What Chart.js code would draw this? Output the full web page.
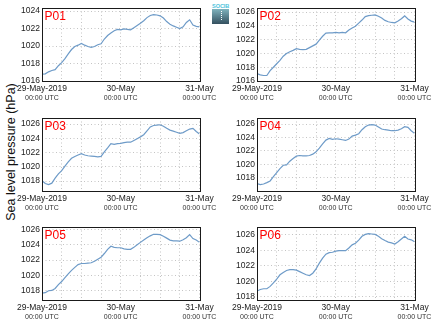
<!DOCTYPE html>
<html>
<head>
<meta charset="utf-8">
<script src="https://cdn.jsdelivr.net/npm/chart.js@4"></script>
<style>
    body { margin: 0; background: #fff; }
    #wrap { position: relative; width: 434px; height: 327px; overflow: hidden; font-family: "Liberation Sans", Arial, sans-serif; }
    #wrap canvas { position: absolute; }
    #ylabel { position: absolute; left: 11px; top: 152px; transform: translate(-50%, -50%) rotate(-90deg); font-size: 12.5px; white-space: nowrap; color: #111; }
    #logo { position: absolute; left: 212px; top: 3px; width: 17px; }
    #logo .txt { font-size: 5.6px; font-weight: bold; color: #4fc3dc; line-height: 6px; text-align: center; letter-spacing: -0.1px; }
    #logo .box { height: 15px; background: linear-gradient(#7fb2bd, #34505f); position: relative; }
    #logo .box::after { content: ""; position: absolute; left: 9px; top: 2px; height: 9px; border-left: 1px dotted #fff; }
</style>
</head>
<body>
<div id="wrap">
    <div id="ylabel">Sea level pressure (hPa)</div>
    <div id="logo"><div class="txt">SOCIB</div><div class="box"></div></div>
    <canvas id="P01" width="222" height="104" style="left:0px;top:0px"></canvas>
    <canvas id="P02" width="222" height="104" style="left:212px;top:0px"></canvas>
    <canvas id="P03" width="222" height="104" style="left:0px;top:110px"></canvas>
    <canvas id="P04" width="222" height="104" style="left:212px;top:110px"></canvas>
    <canvas id="P05" width="222" height="104" style="left:0px;top:219px"></canvas>
    <canvas id="P06" width="222" height="104" style="left:212px;top:219px"></canvas>
</div>
<script>
// hours since 29-May-2019 00:00 UTC
const hours = [0, 1, 2, 3, 4, 5, 6, 7, 8, 9, 10, 11, 12, 13, 14, 15, 16, 17, 18, 19, 20, 21, 22, 23, 24,
    25, 26, 27, 28, 29, 30, 31, 32, 33, 34, 35, 36, 37, 38, 39, 40, 41, 42, 43, 44, 45, 46, 47, 48];
const xGridTicks = [0, 6, 12, 18, 24, 30, 36, 42, 48];
const xLabelTicks = [0, 24, 48];
const xDayLabels = ['29-May-2019', '30-May', '31-May'];
const xTimeLabel = '00:00 UTC';

// sea level pressure (hPa), hourly
const p01 = [1016.77, 1016.82, 1017.05, 1017.2, 1017.3, 1017.75, 1018.1, 1018.55, 1019.1, 1019.6,
    1019.95, 1020.1, 1020.3, 1020.1, 1019.95, 1019.85, 1019.95, 1020.15, 1020.25, 1020.8,
    1021.2, 1021.5, 1021.75, 1021.9, 1021.85, 1021.95, 1021.9, 1021.85, 1022.1, 1022.35,
    1022.6, 1022.9, 1023.25, 1023.5, 1023.6, 1023.55, 1023.45, 1023.2, 1022.8, 1022.5,
    1022.3, 1022.15, 1022.0, 1022.2, 1022.7, 1023.0, 1022.4, 1022.25, 1022.2];
const p02 = [1017.07, 1016.9, 1016.8, 1016.8, 1017.5, 1018.0, 1018.5, 1019.0, 1019.6, 1020.0,
    1020.25, 1020.45, 1020.7, 1020.6, 1020.55, 1020.6, 1020.85, 1021.1, 1021.35, 1021.95,
    1022.5, 1022.95, 1023.0, 1023.0, 1023.05, 1023.0, 1023.05, 1023.0, 1023.4, 1023.7,
    1023.95, 1024.4, 1024.85, 1025.35, 1025.5, 1025.55, 1025.6, 1025.4, 1025.15, 1024.8,
    1024.6, 1024.5, 1024.45, 1024.7, 1025.05, 1025.45, 1025.0, 1024.7, 1024.55];
const p03 = [1018.05, 1017.65, 1017.5, 1017.7, 1018.4, 1019.0, 1019.45, 1020.1, 1020.7, 1021.2,
    1021.45, 1021.65, 1021.85, 1021.65, 1021.55, 1021.5, 1021.45, 1021.4, 1021.45, 1022.1,
    1022.65, 1023.25, 1023.15, 1023.25, 1023.3, 1023.4, 1023.45, 1023.45, 1023.7, 1023.95,
    1024.2, 1024.5, 1025.05, 1025.6, 1025.8, 1025.85, 1025.9, 1025.7, 1025.4, 1025.15,
    1025.0, 1024.85, 1024.7, 1024.8, 1025.05, 1025.3, 1025.4, 1024.95, 1024.6];
const p04 = [1017.1, 1016.95, 1017.05, 1017.25, 1017.5, 1018.15, 1018.75, 1019.35, 1019.85, 1019.9,
    1020.45, 1020.85, 1021.2, 1021.3, 1021.25, 1021.25, 1021.3, 1021.5, 1021.85, 1022.4,
    1023.05, 1023.6, 1023.85, 1023.7, 1023.8, 1023.75, 1023.65, 1023.55, 1023.75, 1024.2,
    1024.35, 1024.55, 1025.15, 1025.6, 1025.85, 1025.9, 1025.85, 1025.55, 1025.25, 1025.15,
    1025.1, 1025.0, 1025.0, 1025.1, 1025.3, 1025.6, 1025.5, 1025.0, 1024.6];
const p05 = [1017.7, 1017.75, 1018.0, 1018.05, 1018.3, 1018.8, 1019.2, 1019.7, 1020.2, 1020.65,
    1021.05, 1021.4, 1021.55, 1021.55, 1021.6, 1021.65, 1021.85, 1022.1, 1022.35, 1022.85,
    1023.4, 1023.8, 1023.65, 1023.6, 1023.6, 1023.45, 1023.4, 1023.4, 1023.65, 1024.0,
    1024.3, 1024.6, 1024.9, 1025.15, 1025.35, 1025.35, 1025.3, 1025.1, 1024.85, 1024.6,
    1024.5, 1024.5, 1024.45, 1024.65, 1024.9, 1025.3, 1024.8, 1024.6, 1024.3];
const p06 = [1018.75, 1018.95, 1019.05, 1019.05, 1019.35, 1019.8, 1020.3, 1020.85, 1021.15, 1021.4,
    1021.5, 1021.5, 1021.45, 1021.25, 1021.05, 1020.85, 1020.75, 1021.05, 1021.6, 1022.35,
    1023.0, 1023.5, 1023.7, 1023.75, 1023.9, 1023.95, 1023.95, 1023.95, 1024.3, 1024.7,
    1024.9, 1025.3, 1025.8, 1026.05, 1026.15, 1026.1, 1026.05, 1025.8, 1025.5, 1025.25,
    1025.05, 1024.95, 1024.8, 1025.1, 1025.45, 1025.8, 1025.45, 1025.35, 1025.1];

// y tick labels per panel
const yTicksA = [1016, 1018, 1020, 1022, 1024];
const yTicksB = [1016, 1018, 1020, 1022, 1024, 1026];
const yTicksC = [1018, 1020, 1022, 1024, 1026];

const panels = [
    { name: 'P01', values: p01, yMin: 1016, yMax: 1024.35, yTicks: yTicksA, col: 0 },
    { name: 'P02', values: p02, yMin: 1016, yMax: 1026.6, yTicks: yTicksB, col: 1 },
    { name: 'P03', values: p03, yMin: 1016.6, yMax: 1026.85, yTicks: yTicksC, col: 0 },
    { name: 'P04', values: p04, yMin: 1016.0, yMax: 1026.9, yTicks: yTicksC, col: 1 },
    { name: 'P05', values: p05, yMin: 1016.8, yMax: 1026.3, yTicks: yTicksC, col: 0 },
    { name: 'P06', values: p06, yMin: 1017.6, yMax: 1027.0, yTicks: yTicksC, col: 1 }
];

Chart.defaults.font.family = '"Liberation Sans", Arial, sans-serif';

// box around the plot area plus the red station name
const framePlugin = {
    id: 'frame',
    afterDraw(chart, args, opts) {
        const { ctx, chartArea: a } = chart;
        ctx.save();
        ctx.strokeStyle = '#1a1a1a';
        ctx.lineWidth = 1;
        ctx.strokeRect(Math.round(a.left) + 0.5, Math.round(a.top) + 0.5,
            Math.round(a.right - a.left), Math.round(a.bottom - a.top));
        ctx.fillStyle = '#ff0000';
        ctx.font = '12px "Liberation Sans", Arial, sans-serif';
        ctx.textBaseline = 'alphabetic';
        ctx.fillText(opts.name, a.left + 2.5, a.top + 12);
        ctx.restore();
    }
};

function createPanel(p) {
    const yWidth = p.col === 0 ? 42 : 45;
    const padRight = p.col === 0 ? 22.5 : 19.5;
    const ctx = document.getElementById(p.name).getContext('2d');
    new Chart(ctx, {
        type: 'line',
        data: {
            datasets: [{
                data: hours.map((h, i) => ({ x: h, y: p.values[i] })),
                borderColor: '#6e9bc8',
                borderWidth: 1.2,
                pointRadius: 0,
                tension: 0
            }]
        },
        options: {
            responsive: false,
            animation: false,
            devicePixelRatio: 1,
            layout: { padding: { left: 0, right: padRight, top: 8, bottom: 0 } },
            plugins: {
                legend: { display: false },
                tooltip: { enabled: false },
                frame: { name: p.name }
            },
            scales: {
                x: {
                    type: 'linear',
                    min: 0,
                    max: 48,
                    weight: 0,
                    afterBuildTicks: s => { s.ticks = xGridTicks.map(v => ({ value: v })); },
                    afterFit: s => { s.height = 13; },
                    grid: { color: '#c4c4c4', drawTicks: false },
                    border: { display: false, dash: [1, 2.5] },
                    ticks: {
                        autoSkip: false,
                        maxRotation: 0,
                        padding: 3,
                        color: '#222',
                        font: { size: 8.5 },
                        callback: v => {
                            const i = xLabelTicks.indexOf(v);
                            return i >= 0 ? xDayLabels[i] : '';
                        }
                    }
                },
                x2: {
                    type: 'linear',
                    position: 'bottom',
                    min: 0,
                    max: 48,
                    weight: 1,
                    afterBuildTicks: s => { s.ticks = xLabelTicks.map(v => ({ value: v })); },
                    afterFit: s => { s.height = 10; },
                    grid: { display: false, drawTicks: false },
                    border: { display: false },
                    ticks: {
                        autoSkip: false,
                        maxRotation: 0,
                        padding: 0,
                        color: '#333',
                        font: { size: 7 },
                        callback: () => xTimeLabel
                    }
                },
                y: {
                    min: p.yMin,
                    max: p.yMax,
                    afterBuildTicks: s => { s.ticks = p.yTicks.map(v => ({ value: v })); },
                    afterFit: s => { s.width = yWidth; },
                    grid: { color: '#c4c4c4', drawTicks: false },
                    border: { display: false, dash: [1, 2.5] },
                    ticks: {
                        padding: 2,
                        color: '#222',
                        font: { size: 8.5 },
                        callback: v => String(v)
                    }
                }
            }
        },
        plugins: [framePlugin]
    });
}

panels.forEach(createPanel);
</script>
</body>
</html>
